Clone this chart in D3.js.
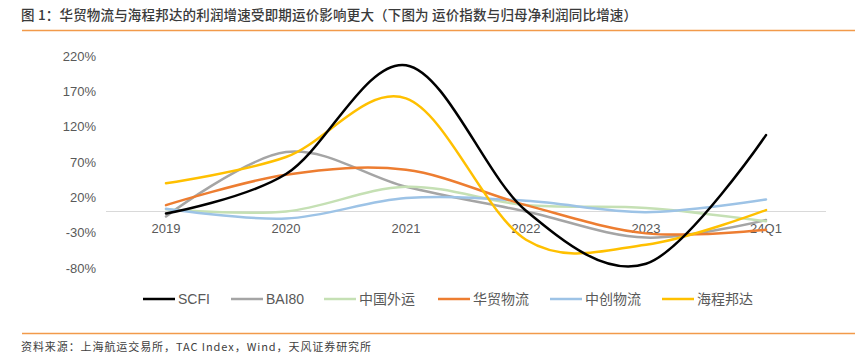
<!DOCTYPE html>
<html><head><meta charset="utf-8">
<script src="https://cdn.jsdelivr.net/npm/d3@7/dist/d3.min.js"></script>
<style>
html,body{margin:0;padding:0;background:#fff;}
svg{display:block;}
</style></head>
<body>
<script>
const categories = ["2019","2020","2021","2022","2023","24Q1"];
const seriesNames = ["SCFI","BAI80","中国外运","华贸物流","中创物流","海程邦达"];
const scfi     = [-3, 53, 207, 1, -74, 108];
const bai80    = [-7, 84, 35, 0, -37, -12];
const zgwy     = [3, 0, 35, 9, 5, -14];
const hmwl     = [9, 52, 59, 9, -31, -26];
const zcwl     = [4, -10, 19, 15, -1, 17];
const hcbd     = [40, 77, 160, -40, -47, 2];
const yTicks   = [-80, -30, 20, 70, 120, 170, 220];
const colors   = ["#000000","#A5A5A5","#C5E0B4","#ED7D31","#9DC3E6","#FFC000"];
const allSeries = [scfi, bai80, zgwy, hmwl, zcwl, hcbd];

const W = 859, H = 356;
const svg = d3.select("body").append("svg").attr("width", W).attr("height", H);
const cjk = "'Noto Sans CJK SC', 'Liberation Sans', sans-serif";
const lat = "'Liberation Sans', Arial, sans-serif";

// title
svg.append("text").attr("x", 21).attr("y", 20)
  .attr("font-family", cjk).attr("font-size", 13.5).attr("font-weight", 500).attr("fill", "#3a3a3a")
  .attr("textLength", 616).attr("lengthAdjust", "spacing")
  .text("图 1：华贸物流与海程邦达的利润增速受即期运价影响更大（下图为 运价指数与归母净利润同比增速）");
svg.append("line").attr("x1", 22).attr("x2", 855).attr("y1", 30.5).attr("y2", 30.5)
  .attr("stroke", "#F29A4A").attr("stroke-width", 1.5);

// footer
svg.append("line").attr("x1", 22).attr("x2", 855).attr("y1", 333.5).attr("y2", 333.5)
  .attr("stroke", "#F29A4A").attr("stroke-width", 1.5);
svg.append("text").attr("x", 21).attr("y", 351)
  .attr("font-family", cjk).attr("font-size", 11).attr("fill", "#404040")
  .attr("textLength", 350).attr("lengthAdjust", "spacing")
  .text("资料来源：上海航运交易所，TAC  Index，Wind，天风证券研究所");

const x = d3.scaleBand().domain(categories).range([106, 826]);
const y = d3.scaleLinear().domain([-80, 220]).range([268, 56]);

// y tick labels
const yAxis = d3.axisLeft(y).tickValues(yTicks).tickFormat(d => d + "%").tickSize(0).tickPadding(0);
const yg = svg.append("g").attr("transform", "translate(96,0)").call(yAxis);
yg.select(".domain").remove();
yg.selectAll("text").attr("font-family", lat).attr("font-size", 13).attr("fill", "#595959");

// zero axis line
svg.append("line").attr("x1", 106).attr("x2", 826).attr("y1", Math.round(y(0)) + 0.5).attr("y2", Math.round(y(0)) + 0.5)
  .attr("stroke", "#D9D9D9").attr("stroke-width", 1);

// x labels
const xAxis = d3.axisBottom(x).tickSize(0).tickPadding(0);
const xg = svg.append("g").attr("transform", "translate(0,224)").call(xAxis);
xg.select(".domain").remove();
xg.selectAll("text").attr("font-family", lat).attr("font-size", 13).attr("fill", "#595959").attr("dy", "0.71em");

// lines
const line = d3.line()
  .x((d, i) => x(categories[i]) + x.bandwidth() / 2)
  .y(d => y(d))
  .curve(d3.curveCardinal.tension(0));
const order = [1, 2, 4, 3, 5, 0];
order.forEach(i => {
  svg.append("path").datum(allSeries[i]).attr("d", line)
    .attr("fill", "none").attr("stroke", colors[i]).attr("stroke-width", 2.5)
    .attr("stroke-linecap", "round").attr("stroke-linejoin", "round");
});

// legend
const legendX = [143, 231, 324, 438, 550, 662];
seriesNames.forEach((n, i) => {
  const g = svg.append("g").attr("transform", `translate(${legendX[i]},299)`);
  g.append("line").attr("x1", 0).attr("x2", 32).attr("y1", 0).attr("y2", 0)
    .attr("stroke", colors[i]).attr("stroke-width", 2.5);
  g.append("text").attr("x", 35).attr("y", 0).attr("dy", "0.35em")
    .attr("font-family", /[\u4e00-\u9fff]/.test(n) ? cjk : lat).attr("font-size", 14).attr("fill", "#595959")
    .text(n);
});
</script>
</body></html>
